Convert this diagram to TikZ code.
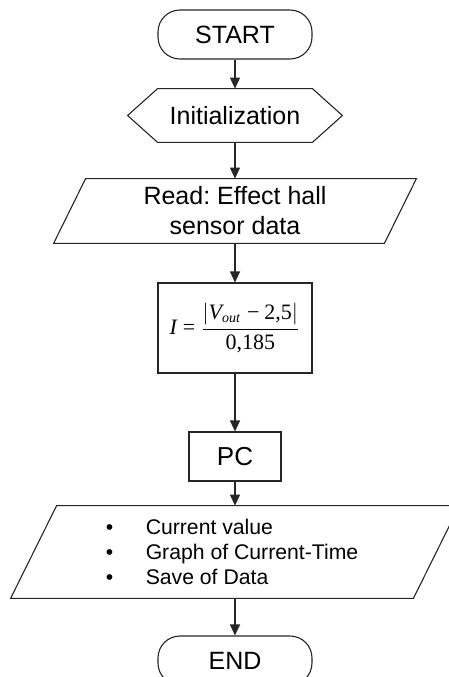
\documentclass[tikz,border=0pt]{standalone}
\usepackage{fontspec}
\setmainfont{Liberation Sans}
\newfontfamily\tnr{Liberation Serif}
\usetikzlibrary{arrows.meta,calc}
\frenchspacing

\begin{document}
\begin{tikzpicture}[x=0.5pt,y=-0.5pt,
  outline/.style={draw=black!85, line width=0.55pt},
  term/.style={outline, rounded corners=11pt, minimum width=77pt,
    minimum height=24.5pt, inner sep=0pt,
    font=\fontsize{12.5pt}{15pt}\selectfont},
  frame/.style={inner sep=0pt, align=center,
    font=\fontsize{12.5pt}{15pt}\selectfont},
  flow/.style={draw=black!85, line width=0.55pt,
    -{Triangle[length=5.5pt,width=5pt]}}
]
% page area
\fill[white] (0,0) rectangle (449,677);
\path[use as bounding box, clip] (0,0) rectangle (449,677);

% nodes
\node[term] (start) at (235,34.5) {START};
\node[frame, minimum width=107pt, minimum height=26.5pt] (init) at (235,115.5) {Initialization};
\node[frame, minimum width=181pt, minimum height=32pt] (read) at (235,211) {Read: Effect hall\\sensor data};
\node[outline, inner sep=0pt, minimum width=77pt, minimum height=45pt] (calc) at (235,328)
  {\tnr\fontsize{11pt}{13pt}\selectfont
   $\mbox{\itshape I}\mkern5mu\mbox{=}\mkern4mu\displaystyle\frac{\left|\vphantom{V^{x}_{x}}\mbox{\itshape V}_{\mbox{\itshape\fontsize{7pt}{8pt}\selectfont out}}\mkern5mu\mbox{−}\mkern4mu\mbox{2,5}\right|}{\mbox{0,185}}$};
\node[outline, inner sep=0pt, minimum width=46pt, minimum height=24.5pt,
  font=\fontsize{13pt}{15pt}\selectfont] (pc) at (235,456.5) {PC};
\node[inner sep=0pt, minimum width=224pt, minimum height=46pt, align=left,
  font=\fontsize{10.6pt}{12.5pt}\selectfont] (out) at (235,552)
  {\makebox[17pt][l]{\hspace{-3pt}\textbullet}Current value\\
   \makebox[17pt][l]{\hspace{-3pt}\textbullet}Graph of Current-Time\\
   \makebox[17pt][l]{\hspace{-3pt}\textbullet}Save of Data};
\node[term] (end) at (235,660.5) {END};

% preparation (hexagon) outline
\draw[outline] (init.west) -- ($(init.north west)+(30,0)$) -- ($(init.north east)+(-30,0)$)
  -- (init.east) -- ($(init.south east)+(-30,0)$) -- ($(init.south west)+(30,0)$) -- cycle;
% input/output (parallelogram) outlines
\draw[outline] (read.south west) -- ($(read.north west)+(32,0)$) -- (read.north east)
  -- ($(read.south east)+(-32,0)$) -- cycle;
\draw[outline] (out.south west) -- ($(out.north west)+(46,0)$) -- (out.north east)
  -- ($(out.south east)+(-46,0)$) -- cycle;

% connectors
\draw[flow] (start) -- (init);
\draw[flow] (init) -- (read);
\draw[flow] (read) -- (calc);
\draw[flow] (calc) -- (pc);
\draw[flow] (pc) -- (out);
\draw[flow] (out) -- (end);
\end{tikzpicture}
\end{document}
